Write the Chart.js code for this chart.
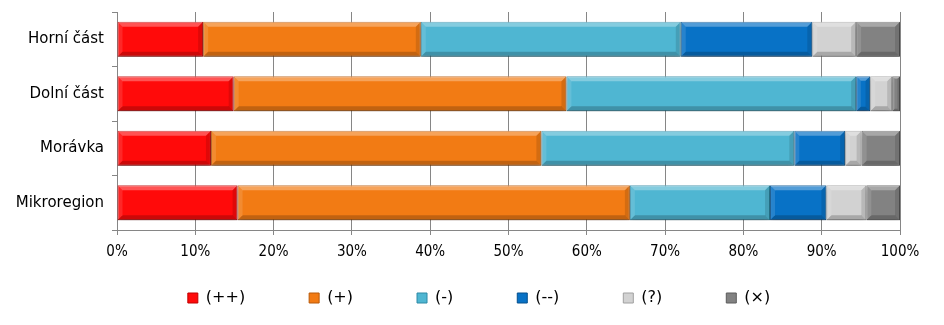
<!DOCTYPE html>
<html>
<head>
<meta charset="utf-8">
<script src="https://cdn.jsdelivr.net/npm/chart.js@4/dist/chart.umd.min.js"></script>
<style>
  html, body { margin: 0; padding: 0; background: #fff; }
  #wrap { width: 944px; height: 325px; }
</style>
</head>
<body>
<div id="wrap"><canvas id="chart"></canvas></div>
<script>
// categories (top to bottom) and percentage share per series
var categories = ['Horní část', 'Dolní část', 'Morávka', 'Mikroregion'];
var seriesNames = ['(++)', '(+)', '(-)', '(--)', '(?)', '(×)'];
var veryPositive = [11.0, 14.9, 12.0, 15.4];
var positive     = [27.8, 42.5, 42.2, 50.1];
var negative     = [33.2, 37.0, 32.3, 17.9];
var veryNegative = [16.8, 1.8, 6.5, 7.2];
var unknown      = [5.6, 2.8, 2.1, 5.1];
var noAnswer     = [5.6, 1.0, 4.9, 4.3];
var xTicks = [0, 10, 20, 30, 40, 50, 60, 70, 80, 90, 100];

var colors = ['#FF0A0A', '#F27B14', '#4FB6D2', '#0872C6', '#D2D2D2', '#828282'];
var borders = ['#C00000', '#B85A0A', '#2E8AA6', '#04508E', '#A0A0A0', '#5C5C5C'];

var values = [veryPositive, positive, negative, veryNegative, unknown, noAnswer];
var datasets = values.map(function (v, i) {
    return {
        label: seriesNames[i],
        data: v,
        backgroundColor: colors[i],
        borderColor: borders[i],
        borderWidth: 1,
        borderSkipped: false,
        categoryPercentage: 1,
        barPercentage: 0.645
    };
});

// legend sits a bit higher/right than the default layout would put it
var legendPos = {
    id: 'legendPos',
    afterLayout: function (chart) {
        chart.legend.top -= 43;
        chart.legend.left += 58;
    }
};

// soft shadow under bars + bevel highlights
var bevelPlugin = {
    id: 'bevel',
    beforeDatasetsDraw: function (chart) {
        var ctx = chart.ctx;
        ctx.save();
        ctx.shadowColor = 'rgba(0,0,0,0.28)';
        ctx.shadowOffsetY = 3;
        ctx.shadowBlur = 5;
    },
    afterDatasetsDraw: function (chart) {
        var ctx = chart.ctx;
        ctx.restore();
        ctx.save();
        chart.data.datasets.forEach(function (ds, di) {
            var meta = chart.getDatasetMeta(di);
            meta.data.forEach(function (bar) {
                var left = Math.min(bar.x, bar.base), right = Math.max(bar.x, bar.base);
                var top = bar.y - bar.height / 2, bottom = bar.y + bar.height / 2;
                var w = right - left, b = Math.min(5, w / 3);
                if (w < 2) return;
                // top light
                ctx.fillStyle = 'rgba(255,255,255,0.30)';
                ctx.beginPath();
                ctx.moveTo(left, top); ctx.lineTo(right, top);
                ctx.lineTo(right - b, top + b); ctx.lineTo(left + b, top + b);
                ctx.closePath(); ctx.fill();
                // bottom dark
                ctx.fillStyle = 'rgba(0,0,0,0.20)';
                ctx.beginPath();
                ctx.moveTo(left, bottom); ctx.lineTo(right, bottom);
                ctx.lineTo(right - b, bottom - b); ctx.lineTo(left + b, bottom - b);
                ctx.closePath(); ctx.fill();
                // right edge
                ctx.fillStyle = 'rgba(0,0,0,0.12)';
                ctx.beginPath();
                ctx.moveTo(right, top); ctx.lineTo(right, bottom);
                ctx.lineTo(right - b, bottom - b); ctx.lineTo(right - b, top + b);
                ctx.closePath(); ctx.fill();
                // left edge
                ctx.fillStyle = 'rgba(255,255,255,0.12)';
                ctx.beginPath();
                ctx.moveTo(left, top); ctx.lineTo(left, bottom);
                ctx.lineTo(left + b, bottom - b); ctx.lineTo(left + b, top + b);
                ctx.closePath(); ctx.fill();
            });
        });
        ctx.restore();
    }
};

var chart = new Chart(document.getElementById('chart'), {
    type: 'bar',
    data: { labels: categories, datasets: datasets },
    plugins: [bevelPlugin, legendPos],
    options: {
        indexAxis: 'y',
        responsive: true,
        maintainAspectRatio: false,
        animation: false,
        layout: { padding: { left: 0, right: 44, top: 12, bottom: 0 } },
        scales: {
            x: {
                stacked: true,
                min: 0,
                max: 100,
                afterBuildTicks: function (scale) {
                    scale.ticks = xTicks.map(function (v) { return { value: v }; });
                },
                ticks: {
                    color: '#000',
                    font: { family: 'DejaVu Sans Condensed', size: 15 },
                    padding: 8,
                    callback: function (v) { return v + '%'; }
                },
                grid: { color: '#868686', lineWidth: 1, tickLength: 5 },
                border: { color: '#868686' }
            },
            y: {
                stacked: true,
                afterFit: function (scale) {
                    scale.width = 117;
                    scale.paddingTop = 0;
                    scale.paddingBottom = 0;
                },
                ticks: {
                    color: '#000',
                    font: { family: 'DejaVu Sans', size: 15 },
                    padding: 8
                },
                grid: { offset: true, drawOnChartArea: false, color: '#868686', tickLength: 5 },
                border: { color: '#868686' }
            }
        },
        plugins: {
            tooltip: { enabled: false },
            legend: {
                position: 'bottom',
                maxHeight: 56,
                labels: {
                    color: '#000',
                    font: { family: 'DejaVu Sans', size: 16 },
                    boxWidth: 10,
                    boxHeight: 10,
                    padding: 64
                }
            }
        }
    }
});
</script>
</body>
</html>
